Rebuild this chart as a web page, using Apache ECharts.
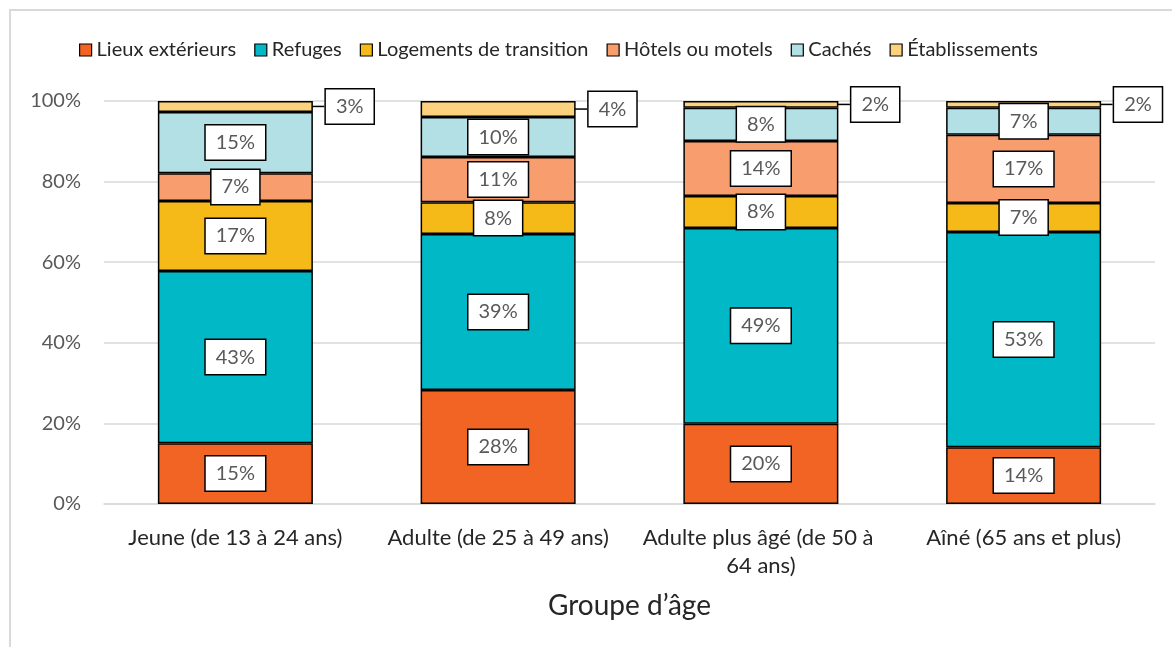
<!DOCTYPE html>
<html><head><meta charset="utf-8">
<script src="https://cdn.jsdelivr.net/npm/echarts@6/dist/echarts.min.js"></script>
<style>html,body{margin:0;padding:0;background:#fff}#c{width:1172px;height:647px}</style>
</head><body><div id="c"></div>
<script>
const categories = ["Jeune (de 13 à 24 ans)", "Adulte (de 25 à 49 ans)", "Adulte plus âgé (de 50 à 64 ans)", "Aîné (65 ans et plus)"];
const seriesNames = ["Lieux extérieurs", "Refuges", "Logements de transition", "Hôtels ou motels", "Cachés", "Établissements"];
const lieuxExterieurs = [15.1, 28.3, 19.9, 14.1];
const refuges = [42.7, 38.7, 48.6, 53.4];
const logementsTransition = [17.4, 7.9, 7.9, 7.2];
const hotelsMotels = [6.9, 11.2, 13.7, 16.9];
const caches = [15.2, 9.9, 8.2, 6.7];
const etablissements = [2.7, 4.0, 1.7, 1.7];
const yTicks = [0, 20, 40, 60, 80, 100];
const colors = ["#F26424", "#00B8C6", "#F6BA18", "#F89D6E", "#B3E0E4", "#FCD27E"];
const values = [lieuxExterieurs, refuges, logementsTransition, hotelsMotels, caches, etablissements];

const FONT = "Lato";
const boxLabel = {
  show: true, position: 'inside',
  formatter: p => Math.round(p.value) + '%',
  backgroundColor: '#fff', borderColor: '#000', borderWidth: 1.5,
  padding: [7, 10], color: '#595959', fontSize: 20, fontFamily: FONT
};
const series = seriesNames.map((n, i) => {
  const s = {
    name: n, type: 'bar', stack: 'total', data: values[i], barWidth: '59%',
    itemStyle: { color: colors[i], borderColor: '#000', borderWidth: 1.5 },
    label: Object.assign({}, boxLabel)
  };
  if (i === 5) {
    s.label = Object.assign({}, boxLabel, { position: 'right', distance: 0 });
    s.labelLayout = { dx: 13, dy: 0 };
    s.labelLine = { show: true, lineStyle: { color: '#000', width: 1.5 } };
  }
  return s;
});

const chart = echarts.init(document.getElementById('c'), null, { renderer: 'canvas' });
chart.setOption({
  animation: false,
  textStyle: { fontFamily: FONT },
  graphic: [{ type: 'rect', shape: { x: 10, y: 10, width: 1200, height: 700 }, style: { fill: 'none', stroke: '#d9d9d9', lineWidth: 2 }, silent: true }],
  legend: {
    left: 74, top: 35, itemWidth: 12, itemHeight: 12, itemGap: 18,
    icon: 'rect',
    itemStyle: { borderColor: '#000', borderWidth: 1.2 },
    textStyle: { fontSize: 20, color: '#262626', fontFamily: FONT },
    data: seriesNames
  },
  grid: { left: 104, right: 17, top: 101, bottom: 143, containLabel: false },
  xAxis: {
    type: 'category', data: categories,
    axisLine: { lineStyle: { color: '#d9d9d9', width: 1.5 } },
    axisTick: { show: false },
    axisLabel: { color: '#262626', fontSize: 22, fontFamily: FONT, margin: 20, width: 275, overflow: 'break', lineHeight: 28, interval: 0 },
    name: "Groupe d’âge", nameLocation: 'middle', nameGap: 88,
    nameTextStyle: { fontSize: 28, color: '#262626', fontFamily: FONT }
  },
  yAxis: {
    type: 'value', min: yTicks[0], max: yTicks[yTicks.length - 1], interval: yTicks[1] - yTicks[0],
    axisLabel: { formatter: '{value}%', color: '#595959', fontSize: 20, fontFamily: FONT, margin: 23 },
    splitLine: { lineStyle: { color: '#d9d9d9', width: 1.5 } },
    axisLine: { show: false }, axisTick: { show: false }
  },
  series: series
});
</script></body></html>
